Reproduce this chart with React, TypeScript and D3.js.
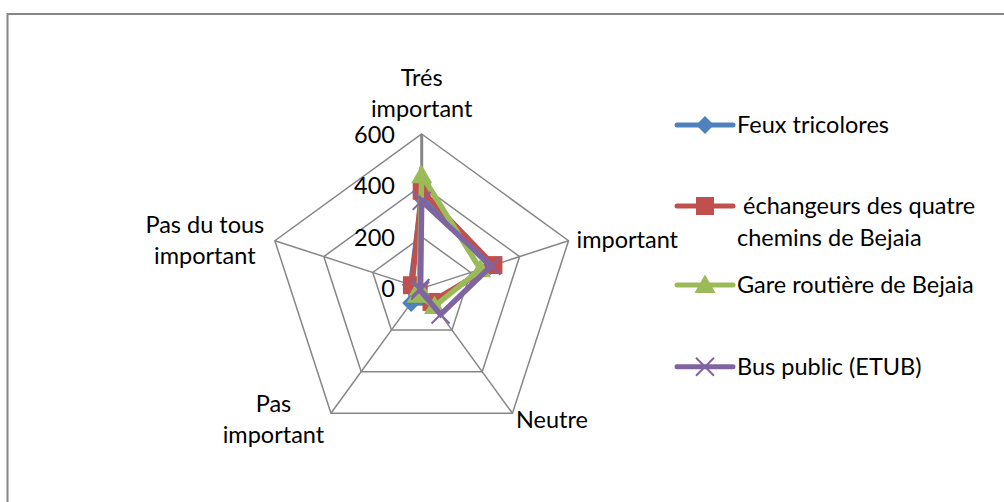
import React from "react";
import * as d3 from "d3";

// Radar categories (clockwise from the top) and their wrapped label lines
const CATEGORIES = ["Trés important", "important", "Neutre", "Pas important", "Pas du tous important"];
const CATEGORY_LINES = [["Trés", "important"], ["important"], ["Neutre"], ["Pas", "important"], ["Pas du tous", "important"]];

// Value axis
const TICKS = [0, 200, 400, 600];
const MAX_VALUE = 600;

// Series
const SERIES_NAMES = ["Feux tricolores", "échangeurs des quatre chemins de Bejaia", "Gare routière de Bejaia", "Bus public (ETUB)"];
const LEGEND_LINES = [["Feux tricolores"], [" échangeurs des quatre", "chemins de Bejaia"], ["Gare routière de Bejaia"], ["Bus public (ETUB)"]];
const FEUX = [350, 280, 70, 70, 45];
const ECHANGEURS = [380, 293, 65, 20, 40];
const GARE = [440, 240, 85, 30, 10];
const BUS = [340, 285, 125, 10, 5];
const SERIES_VALUES = [FEUX, ECHANGEURS, GARE, BUS];

// Styling
const COLORS = ["#4F81BD", "#C0504D", "#9BBB59", "#8064A2"];
const MARKERS = ["diamond", "square", "triangle", "x"];
const GRID = "#868686";
const FONT = "Lato, 'Open Sans', sans-serif";
const FONT_SIZE = 23.5;

// Layout
const W = 1004;
const H = 502;
const CX = 421.7;
const CY = 288.4;
const R = 154.4;
const LINE_GAP = 31;
// label offsets from each outer vertex: [dx, dy of first baseline, anchor]
const LABEL_OFFSETS: [number, number, string][] = [
  [0, -48, "middle"],
  [8, 7.5, "start"],
  [3.5, 15, "start"],
  [-57.5, -1.6, "middle"],
  [-70, -7.7, "middle"],
];
const LEGEND = { lineX0: 677, lineX1: 733, textX: 737, rows: [125, 206, 285, 366.7] };

const rScale = d3.scaleLinear().domain([0, MAX_VALUE]).range([0, R]);
const angle = (i: number) => (i * 2 * Math.PI) / CATEGORIES.length;
const pt = (i: number, v: number): [number, number] => {
  const r = rScale(v);
  const a = angle(i);
  return [CX + r * Math.sin(a), CY - r * Math.cos(a)];
};

function Marker({ kind, x, y, color }: { kind: string; x: number; y: number; color: string }) {
  if (kind === "diamond") {
    const s = 9;
    return <path d={`M${x},${y - s}L${x + s},${y}L${x},${y + s}L${x - s},${y}Z`} fill={color} />;
  }
  if (kind === "square") {
    const s = 9;
    return <rect x={x - s} y={y - s} width={2 * s} height={2 * s} fill={color} />;
  }
  if (kind === "triangle") {
    return <path d={`M${x},${y - 10.5}L${x + 10.5},${y + 8}L${x - 10.5},${y + 8}Z`} fill={color} />;
  }
  const s = 9;
  return (
    <path
      d={`M${x - s},${y - s}L${x + s},${y + s}M${x - s},${y + s}L${x + s},${y - s}`}
      stroke={color}
      strokeWidth={2}
      fill="none"
    />
  );
}

export default function App() {
  const radial = d3
    .lineRadial<number>()
    .angle((_, i) => angle(i))
    .radius((d) => rScale(d))
    .curve(d3.curveLinearClosed);

  const gridRings = TICKS.filter((t) => t > 0);

  return (
    <svg
      width={W}
      height={H}
      style={{ position: "absolute", left: 0, top: 0, background: "#fff" }}
      fontFamily={FONT}
      fontSize={FONT_SIZE}
    >
      <rect x={0} y={0} width={W} height={H} fill="#fff" />
      {/* chart frame */}
      <rect x={7.5} y={14} width={W + 40} height={H + 40} fill="none" stroke={GRID} strokeWidth={2} />

      {/* grid rings */}
      {gridRings.map((t) => (
        <path
          key={t}
          d={radial(CATEGORIES.map(() => t)) as string}
          transform={`translate(${CX},${CY})`}
          fill="none"
          stroke={GRID}
          strokeWidth={1.5}
        />
      ))}
      {/* spokes */}
      {CATEGORIES.map((c, i) => {
        const [x, y] = pt(i, MAX_VALUE);
        return <line key={c} x1={CX} y1={CY} x2={x} y2={y} stroke={GRID} strokeWidth={i === 0 ? 3 : 1.5} />;
      })}

      {/* value tick labels */}
      {TICKS.map((t) => (
        <text key={t} x={395} y={CY - rScale(t) + 9} textAnchor="end" fill="#000">
          {t}
        </text>
      ))}

      {/* category labels */}
      {CATEGORY_LINES.map((lines, i) => {
        const [vx, vy] = pt(i, MAX_VALUE);
        const [dx, dy, anchor] = LABEL_OFFSETS[i];
        return (
          <text key={i} textAnchor={anchor as any} fill="#000">
            {lines.map((l, j) => (
              <tspan key={j} x={vx + dx} y={vy + dy + j * LINE_GAP}>
                {l}
              </tspan>
            ))}
          </text>
        );
      })}

      {/* series */}
      {SERIES_VALUES.map((vals, s) => (
        <g key={SERIES_NAMES[s]}>
          <path
            d={radial(vals) as string}
            transform={`translate(${CX},${CY})`}
            fill="none"
            stroke={COLORS[s]}
            strokeWidth={5.5}
            strokeLinejoin="miter"
          />
          {vals.map((v, i) => {
            const [x, y] = pt(i, v);
            return <Marker key={i} kind={MARKERS[s]} x={x} y={y} color={COLORS[s]} />;
          })}
        </g>
      ))}

      {/* legend */}
      {LEGEND_LINES.map((lines, s) => {
        const y = LEGEND.rows[s];
        return (
          <g key={s}>
            <line x1={LEGEND.lineX0} x2={LEGEND.lineX1} y1={y} y2={y} stroke={COLORS[s]} strokeWidth={5} strokeLinecap="round" />
            <Marker kind={MARKERS[s]} x={(LEGEND.lineX0 + LEGEND.lineX1) / 2} y={y} color={COLORS[s]} />
            <text fill="#000" style={{ whiteSpace: "pre" }}>
              {lines.map((l, j) => (
                <tspan key={j} x={LEGEND.textX} y={y + 8 + j * 32}>
                  {l}
                </tspan>
              ))}
            </text>
          </g>
        );
      })}
    </svg>
  );
}
